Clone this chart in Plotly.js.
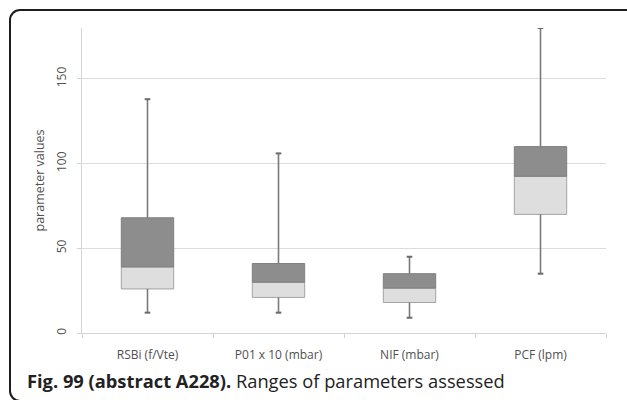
<!DOCTYPE html>
<html>
<head>
<meta charset="utf-8">
<script src="https://cdn.plot.ly/plotly-3.0.1.min.js"></script>
<style>
  html, body { margin: 0; padding: 0; background: #fff; width: 627px; height: 400px; overflow: hidden; }
  #frame { position: absolute; left: 9px; top: 9px; width: 640px; height: 393px; border: 2px solid #1e1e1e; border-radius: 11px; box-sizing: border-box; }
  #chart { position: absolute; left: 0; top: 0; width: 627px; height: 400px; }
</style>
</head>
<body>
<div id="frame"></div>
<div id="chart"></div>
<script>
// Data
const categories = ["RSBi (f/Vte)", "P01 x 10 (mbar)", "NIF (mbar)", "PCF (lpm)"];
const minValues    = [12, 12, 9, 35];
const q1Values     = [26, 21, 18, 70];
const medianValues = [39, 30, 26.5, 92.5];
const q3Values     = [68, 41, 35, 110];
const maxValues    = [138, 106, 45, 180];
const yTickValues  = [0, 50, 100, 150];
const yTitle = "parameter values";
const captionBold = "Fig. 99 (abstract A228).";
const captionText = " Ranges of parameters assessed";

const lowerBox = {
  type: "bar",
  x: categories,
  base: q1Values,
  y: medianValues.map((m, i) => m - q1Values[i]),
  width: 0.4,
  marker: { color: "#dedede", line: { color: "#a3a3a3", width: 1 } },
  hoverinfo: "skip",
  showlegend: false
};
const upperBox = {
  type: "bar",
  x: categories,
  base: medianValues,
  y: q3Values.map((q, i) => q - medianValues[i]),
  width: 0.4,
  marker: { color: "#8d8d8d", line: { color: "#7f7f7f", width: 1 } },
  hoverinfo: "skip",
  showlegend: false
};

// Whisker segments
const wx = [], wy = [];
categories.forEach((c, i) => {
  wx.push(c, c, null, c, c, null);
  wy.push(minValues[i], q1Values[i], null, q3Values[i], maxValues[i], null);
});
const whiskers = {
  type: "scatter",
  mode: "lines",
  x: wx, y: wy,
  line: { color: "#7a7a7a", width: 1.6 },
  hoverinfo: "skip",
  showlegend: false,
  connectgaps: false
};
const capsX = [], capsY = [];
categories.forEach((c, i) => { capsX.push(c, c); capsY.push(minValues[i], maxValues[i]); });
const caps = {
  type: "scatter",
  mode: "markers",
  x: capsX, y: capsY,
  marker: { symbol: "line-ew", size: 4, line: { color: "#6a6a6a", width: 2 } },
  hoverinfo: "skip",
  showlegend: false
};

const layout = {
  width: 627, height: 400,
  margin: { l: 82, r: 21, t: 28, b: 67, pad: 0 },
  paper_bgcolor: "rgba(0,0,0,0)",
  plot_bgcolor: "rgba(0,0,0,0)",
  barmode: "overlay",
  font: { family: "Open Sans, sans-serif", color: "#595959" },
  xaxis: {
    type: "category",
    showgrid: false,
    showline: true, linecolor: "#d4d4d4", linewidth: 1.2,
    ticks: "outside", tickson: "boundaries", ticklen: 4, tickcolor: "#d4d4d4",
    ticklabelstandoff: 10,
    tickfont: { size: 12, color: "#505050", family: "Open Sans, sans-serif" },
    zeroline: false
  },
  yaxis: {
    range: [0, 180],
    tickvals: yTickValues,
    tickangle: -90,
    showgrid: true, gridcolor: "#dcdcdc", gridwidth: 1.2,
    showline: true, linecolor: "#d4d4d4", linewidth: 1.2,
    ticks: "outside", ticklen: 4, tickcolor: "#d4d4d4",
    ticklabelstandoff: 6,
    tickfont: { size: 12, color: "#505050" },
    zeroline: false,
    title: { text: yTitle, font: { size: 12.5, color: "#505050" }, standoff: 5 }
  },
  annotations: [{
    xref: "paper", yref: "paper",
    x: -0.109, y: -0.157,
    xanchor: "left", yanchor: "middle",
    showarrow: false,
    align: "left",
    text: "<b>" + captionBold + "</b>" + captionText,
    font: { size: 18.3, color: "#222222", family: "Open Sans, sans-serif" }
  }]
};

Plotly.newPlot("chart", [lowerBox, upperBox, whiskers, caps], layout, { displayModeBar: false, staticPlot: true });
</script>
</body>
</html>
